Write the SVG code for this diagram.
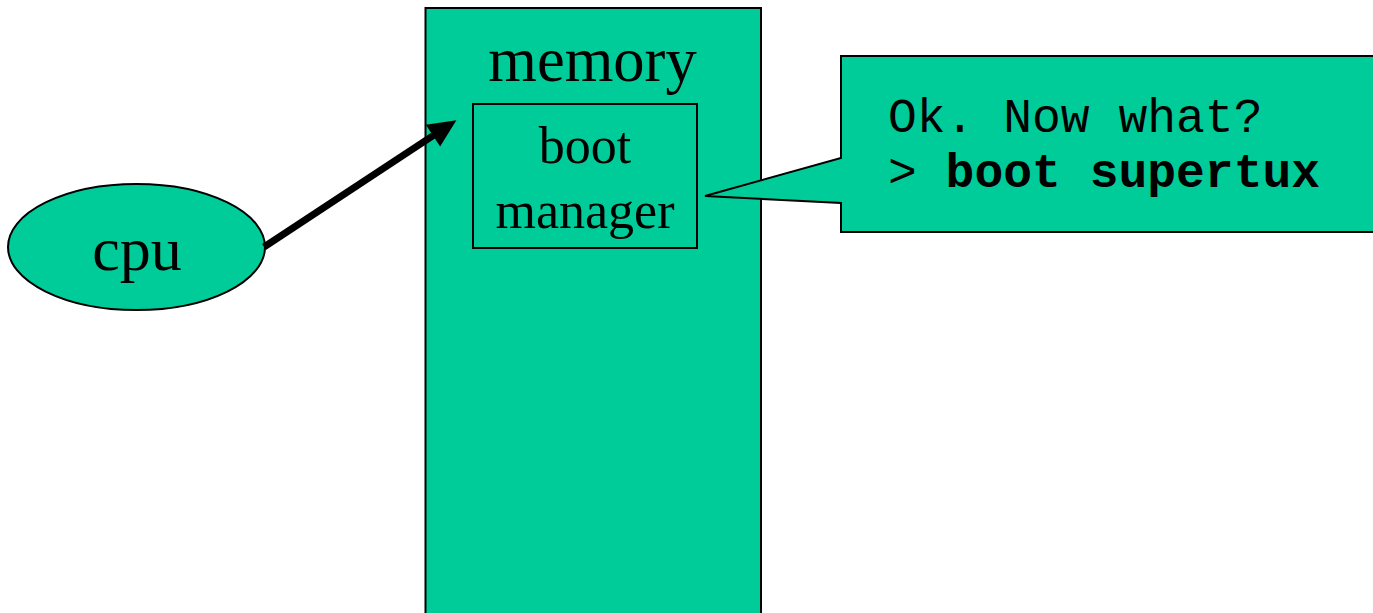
<svg xmlns="http://www.w3.org/2000/svg" width="1373" height="613" viewBox="0 0 1373 613">
  <defs>
    <style>
      .fill { fill: #00CC99; stroke: #000; stroke-width: 2; }
      .serif { font-family: "Liberation Serif", "Times New Roman", serif; fill: #000; text-anchor: middle; }
      .mono { font-family: "Liberation Mono", "Courier New", monospace; fill: #000; font-size: 48px; }
    </style>
    <marker id="arrowhead" markerUnits="userSpaceOnUse" markerWidth="30" markerHeight="28" refX="6" refY="13" orient="auto" overflow="visible">
      <path d="M0,0 L28,13 L0,26 Z" fill="#000"/>
    </marker>
  </defs>

  <rect width="1373" height="613" fill="#fff"/>

  <!-- memory column with the boot manager inside -->
  <g id="memory">
    <rect class="fill" x="425.5" y="8" width="335.5" height="640"/>
    <text class="serif" x="592.5" y="81" font-size="62.5">memory</text>
  </g>
  <g id="boot-manager">
    <rect class="fill" x="473" y="104" width="224" height="144"/>
    <text class="serif" x="585" y="163" font-size="52">boot</text>
    <text class="serif" x="585" y="228" font-size="52">manager</text>
  </g>

  <!-- cpu -->
  <g id="cpu">
    <ellipse class="fill" cx="136.5" cy="247" rx="128.5" ry="63" stroke-width="1.5"/>
    <text class="serif" x="137" y="270" font-size="62">cpu</text>
  </g>

  <!-- speech callout from the boot manager -->
  <g id="prompt">
    <path class="fill" d="M841,56 L1385,56 L1385,232 L841,232 L841,203 L705,196 L841,158 Z"/>
    <text class="mono" x="888" y="132" xml:space="preserve">Ok. Now what?</text>
    <text class="mono" x="888" y="187" xml:space="preserve">&gt; <tspan font-weight="bold">boot supertux</tspan></text>
  </g>

  <!-- cpu points into memory: shaft stops short so the head gives the tip -->
  <g id="connectors">
    <line x1="264" y1="247" x2="438" y2="132.3" stroke="#000" stroke-width="7" marker-end="url(#arrowhead)"/>
  </g>
</svg>
